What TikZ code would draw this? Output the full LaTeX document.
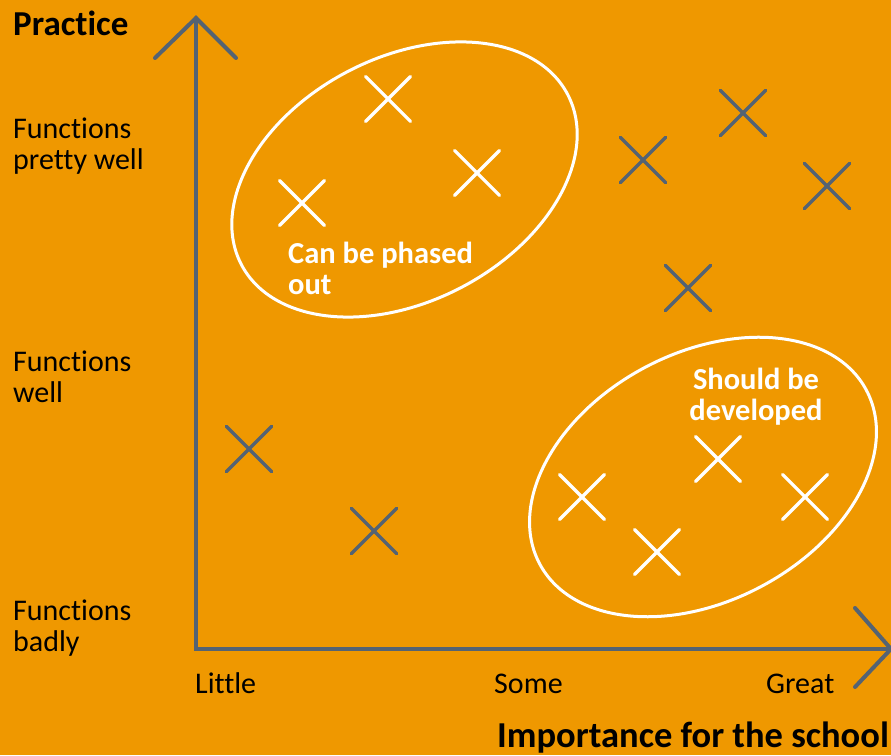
\documentclass[tikz,border=0pt]{standalone}
\usepackage{fontspec}
\setmainfont{Carlito}[Ligatures={NoCommon}]
\usetikzlibrary{shapes.misc}
\definecolor{bgorange}{HTML}{EF9800}
\definecolor{axisgrey}{HTML}{546373}
\begin{document}
\begin{tikzpicture}[x=1pt,y=1pt,
  axisline/.style={draw=axisgrey, line width=4pt, line cap=round, line join=miter},
  gcross/.style={cross out, draw=axisgrey, line width=3.5pt, line cap=round, minimum size=42pt, inner sep=0pt},
  wcross/.style={cross out, draw=white, line width=3.2pt, line cap=round, minimum size=42pt, inner sep=0pt},
  group/.style={draw=white, line width=3pt},
  ticklabel/.style={inner sep=0pt, anchor=base west, font=\fontsize{30}{31}\selectfont},
  rowlabel/.style={inner sep=0pt, anchor=base west, align=left, font=\fontsize{30}{31}\selectfont},
  axistitle/.style={inner sep=0pt, anchor=base west, font=\fontsize{35}{38}\selectfont\bfseries},
  grouplabel/.style={inner sep=0pt, text=white, font=\fontsize{30.5}{31.5}\selectfont\bfseries}]
\useasboundingbox (0,0) rectangle (891,755);
\fill[bgorange] (0,0) rectangle (891,755);

% axes
\coordinate (origin) at (196,106);
\coordinate (ytop) at (196,737);
\coordinate (yl) at (155,697);
\coordinate (yr) at (236,697);
\coordinate (xend) at (891,106);
\coordinate (xu) at (855,147);
\coordinate (xd) at (855,68);
\draw[axisline] (ytop) -- (origin) -- (xend);
\draw[axisline] (yl) -- (ytop) -- (yr);
\draw[axisline] (xu) -- (xend) -- (xd);

% groups
\draw[group] (404.5,575.5) ellipse [x radius=184, y radius=122, rotate=27.5];
\draw[group] (703,278) ellipse [x radius=185, y radius=124, rotate=28];

% white crosses inside the groups
\node[wcross] (w1) at (388,656) {};
\node[wcross] (w2) at (477,582) {};
\node[wcross] (w3) at (302,552) {};
\node[wcross] (w4) at (718,296) {};
\node[wcross] (w5) at (582,258) {};
\node[wcross] (w6) at (805,258) {};
\node[wcross] (w7) at (657,203) {};

% grey crosses
\node[gcross] (g1) at (643,595) {};
\node[gcross] (g2) at (743,642) {};
\node[gcross] (g3) at (827,569) {};
\node[gcross] (g4) at (688,467) {};
\node[gcross] (g5) at (249,306) {};
\node[gcross] (g6) at (374,224) {};

% group labels (base anchor sits on the last line)
\node[grouplabel, anchor=base west, align=left] (phase) at (288,460) {Can be phased\\out};
\node[grouplabel, anchor=base, align=center] (develop) at (756,334) {Should be\\developed};

% axis titles
\node[axistitle] (ytitle) at (13,719) {Practice};
\node[axistitle, font=\fontsize{36.5}{38}\selectfont\bfseries] (xtitle) at (497,8) {Importance for the school};

% vertical scale
\node[rowlabel] (r1) at (13,585) {Functions\\pretty well};
\node[rowlabel] (r2) at (13,352) {Functions\\well};
\node[rowlabel] (r3) at (13,103) {Functions\\badly};

% horizontal scale
\node[ticklabel] (c1) at (195,62) {Little};
\node[ticklabel] (c2) at (494,62) {Some};
\node[ticklabel] (c3) at (766,62) {Great};
\end{tikzpicture}
\end{document}
